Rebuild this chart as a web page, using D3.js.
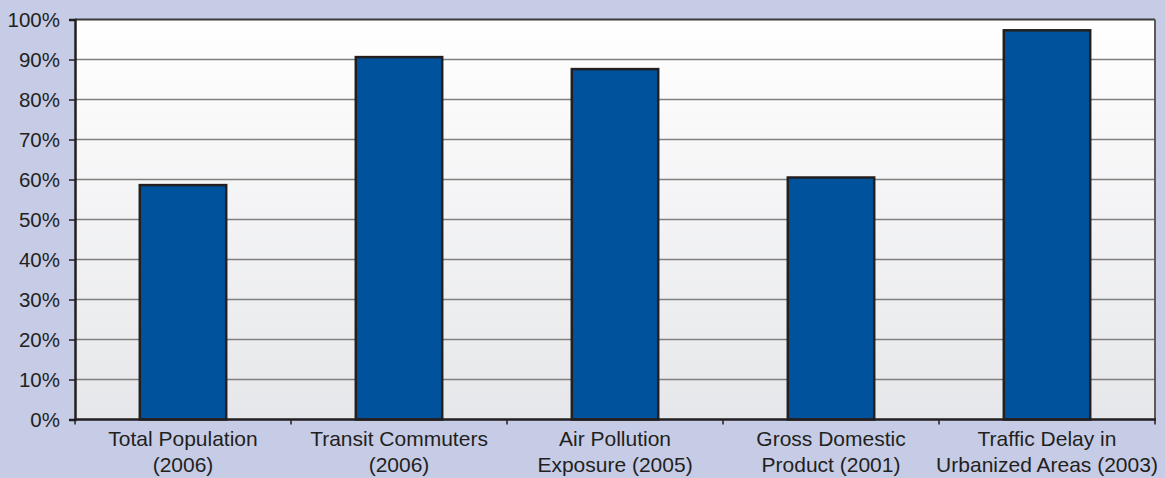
<!DOCTYPE html>
<html>
<head>
<meta charset="utf-8">
<script src="https://cdn.jsdelivr.net/npm/d3@7"></script>
<style>
  html, body { margin: 0; padding: 0; background: #c6cce6; }
  svg { display: block; }
  text { font-family: "Liberation Sans", Arial, Helvetica, sans-serif; fill: #231f20; }
</style>
</head>
<body>
<svg id="chart" width="1165" height="478"></svg>
<script>
// ---- data ----
const categories = [
  "Total Population (2006)",
  "Transit Commuters (2006)",
  "Air Pollution Exposure (2005)",
  "Gross Domestic Product (2001)",
  "Traffic Delay in Urbanized Areas (2003)"
];
const labelLines = [
  ["Total Population", "(2006)"],
  ["Transit Commuters", "(2006)"],
  ["Air Pollution", "Exposure (2005)"],
  ["Gross Domestic", "Product (2001)"],
  ["Traffic Delay in", "Urbanized Areas (2003)"]
];
const values = [58.6, 90.6, 87.6, 60.5, 97.3];
const yTicks = [0, 10, 20, 30, 40, 50, 60, 70, 80, 90, 100];

// ---- layout ----
const svg = d3.select("#chart");
const pLeft = 75, pRight = 1155, pTop = 19.5, pBottom = 419.5;

const y = d3.scaleLinear().domain([0, 100]).range([pBottom, pTop]);
const xOuter = d3.scaleBand().domain(categories).range([pLeft, pRight]).padding(0);
const x = d3.scaleBand().domain(categories).range([pLeft, pRight])
  .paddingInner(0.6).paddingOuter(0.3);

// gradient background for plot
const defs = svg.append("defs");
const grad = defs.append("linearGradient").attr("id", "bg")
  .attr("x1", 0).attr("y1", 0).attr("x2", 0).attr("y2", 1);
grad.append("stop").attr("offset", "0%").attr("stop-color", "#ffffff");
grad.append("stop").attr("offset", "100%").attr("stop-color", "#e6e7ea");

svg.append("rect")
  .attr("x", pLeft).attr("y", pTop)
  .attr("width", pRight - pLeft).attr("height", pBottom - pTop)
  .attr("fill", "url(#bg)");

// gridlines
svg.append("g").selectAll("line")
  .data(yTicks.filter(d => d > 0 && d < 100))
  .join("line")
  .attr("x1", pLeft).attr("x2", pRight)
  .attr("y1", d => y(d)).attr("y2", d => y(d))
  .attr("stroke", "#808080").attr("stroke-width", 1.5);

// top and right border
svg.append("line").attr("x1", pLeft).attr("x2", pRight)
  .attr("y1", y(100)).attr("y2", y(100))
  .attr("stroke", "#3a3a3a").attr("stroke-width", 2);
svg.append("line").attr("x1", pRight).attr("x2", pRight)
  .attr("y1", pTop).attr("y2", pBottom)
  .attr("stroke", "#5a5a5a").attr("stroke-width", 2);

// bars
svg.append("g").selectAll("rect")
  .data(values)
  .join("rect")
  .attr("x", (d, i) => x(categories[i]))
  .attr("width", x.bandwidth())
  .attr("y", d => y(d))
  .attr("height", d => y(0) - y(d))
  .attr("fill", "#00529c")
  .attr("stroke", "#231f20")
  .attr("stroke-width", 2.5);

// y axis
const yAxis = d3.axisLeft(y).tickValues(yTicks).tickFormat(d => d + "%")
  .tickSize(6).tickPadding(9);
const gy = svg.append("g").attr("transform", `translate(${pLeft},0)`).call(yAxis);
gy.select(".domain").attr("stroke", "#231f20").attr("stroke-width", 2.5);
gy.selectAll(".tick line").attr("stroke", "#231f20").attr("stroke-width", 1.5);
gy.selectAll(".tick text").attr("font-size", 20.5).attr("fill", "#231f20")
  .attr("font-family", "'Liberation Sans', Arial, sans-serif");

// x axis line + boundary ticks
svg.append("line").attr("x1", pLeft - 1).attr("x2", pRight + 1)
  .attr("y1", pBottom).attr("y2", pBottom)
  .attr("stroke", "#231f20").attr("stroke-width", 2.5);
const boundaries = categories.map(c => xOuter(c)).concat([pRight]);
svg.append("g").selectAll("line")
  .data(boundaries)
  .join("line")
  .attr("x1", d => d).attr("x2", d => d)
  .attr("y1", pBottom).attr("y2", pBottom + 5)
  .attr("stroke", "#231f20").attr("stroke-width", 1.5);

// x labels
const lbl = svg.append("g").selectAll("text")
  .data(categories)
  .join("text")
  .attr("text-anchor", "middle")
  .attr("font-size", 21)
  .attr("transform", c => `translate(${xOuter(c) + xOuter.bandwidth() / 2},0)`);
lbl.each(function(c, i) {
  const t = d3.select(this);
  labelLines[i].forEach((line, j) => {
    t.append("tspan").attr("x", 0).attr("y", 446 + j * 26).text(line);
  });
});
</script>
</body>
</html>
